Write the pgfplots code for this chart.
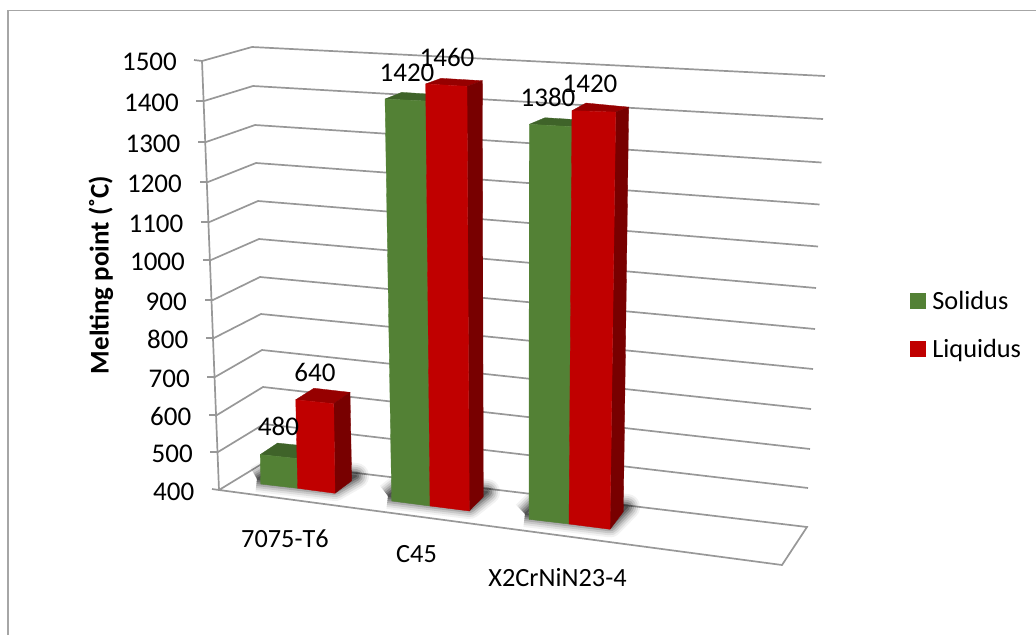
\documentclass[border=0pt]{standalone}
\usepackage{fontspec}
\setmainfont{Carlito}
\usepackage{pgfplots}
\pgfplotsset{compat=1.18}

\definecolor{solidusfront}{HTML}{538135}
\definecolor{solidustop}{HTML}{3F6329}
\definecolor{liquidusfront}{HTML}{C00000}
\definecolor{liquidustop}{HTML}{960000}
\definecolor{liquidusside}{HTML}{780000}
\definecolor{gridgray}{HTML}{989898}
\definecolor{framegray}{HTML}{A6A6A6}

\newcommand{\lbl}{\fontsize{26.3}{30}\selectfont}
\newcommand{\num}{\fontsize{27}{30}\selectfont}

% Value scale of the chart: floor at 400, top of the walls at 1500.
\newcommand{\BarValue}[1]{\pgfmathsetmacro{\T}{(#1-400)/1100}}
% One vertical edge of a bar: foot x, foot y, then the offset from foot to level 1500.
\newcommand{\SetCorner}[5]{%
  \pgfmathsetmacro{\tmpx}{#2+\T*(#4)}%
  \pgfmathsetmacro{\tmpy}{#3+\T*(#5)}%
  \expandafter\edef\csname #1tx\endcsname{\tmpx}%
  \expandafter\edef\csname #1ty\endcsname{\tmpy}%
  \expandafter\edef\csname #1bx\endcsname{#2}%
  \expandafter\edef\csname #1by\endcsname{#3}%
}
\newcommand{\Face}[2]{%
  \edef\tmpface{\noexpand\addplot[fill=#1,draw=#1,line width=0.3pt,forget plot] coordinates {#2};}%
  \tmpface
}
\newcommand{\DrawBar}[3]{%
  \Face{#2}{(\FLtx,\FLty) (\FRtx,\FRty) (\BRtx,\BRty) (\BLtx,\BLty) (\FLtx,\FLty)}%
  \Face{#3}{(\FRbx,\FRby) (\BRbx,\BRby) (\BRtx,\BRty) (\FRtx,\FRty) (\FRbx,\FRby)}%
  \Face{#1}{(\FLbx,\FLby) (\FRbx,\FRby) (\FRtx,\FRty) (\FLtx,\FLty) (\FLbx,\FLby)}%
}
% Soft floor shadow: nested translucent outlines around a bar group's footprint.
\newcommand{\Shadow}[1]{%
  \addplot[draw=black,opacity=0.05,line width=26pt,line join=round,forget plot] coordinates {#1};
  \addplot[draw=black,opacity=0.08,line width=22pt,line join=round,forget plot] coordinates {#1};
  \addplot[draw=black,opacity=0.10,line width=18pt,line join=round,forget plot] coordinates {#1};
  \addplot[draw=black,opacity=0.14,line width=14pt,line join=round,forget plot] coordinates {#1};
  \addplot[draw=black,opacity=0.18,line width=10pt,line join=round,forget plot] coordinates {#1};
  \addplot[draw=black,opacity=0.22,line width=6pt,line join=round,forget plot] coordinates {#1};
  \addplot[draw=black,opacity=0.25,line width=2pt,line join=round,forget plot] coordinates {#1};
}
\newcommand{\Grid}[1]{\addplot[gridgray,line width=1.7pt,forget plot] coordinates {#1};}

\begin{document}
\begin{tikzpicture}
\path[use as bounding box] (0,0) rectangle (1036pt,635pt);
\begin{axis}[
  at={(0,0)}, anchor=south west,
  scale only axis, width=1036pt, height=635pt,
  xmin=0, xmax=1036, ymin=0, ymax=635, y dir=reverse,
  hide axis, clip=false,
  legend image code/.code={\fill[#1] (0pt,-7.5pt) rectangle (15pt,7.5pt);\path (20pt,0pt);},
  legend cell align=left,
  legend style={at={(axis cs:910,289)},anchor=north west,draw=none,fill=none,
    font=\lbl,row sep=24pt,inner sep=0pt,outer sep=0pt,
    /tikz/every even column/.append style={column sep=0pt}},
]
% chart frame: left and top sides only
\draw[framegray,line width=1.8pt] (axis cs:8,635) -- (axis cs:8,10.5) -- (axis cs:1036,10.5);

% gridlines: tick stub, left wall, back wall
\Grid{(194,60) (202,61) (252,47) (825,76)}
\Grid{(196,101) (204,101) (253,86) (823,119)}
\Grid{(198,142) (206,142) (255,125) (821.5,162.5)}
\Grid{(200,182) (208,182) (256,163) (819.5,204.5)}
\Grid{(201,222) (209.5,222) (258,201) (818,246.5)}
\Grid{(203,260) (211,260) (259,239) (816,288)}
\Grid{(205,300) (213,300) (260,277) (815,329)}
\Grid{(206,338) (214,338) (261,314) (813,369)}
\Grid{(207,377) (215,377) (262,350) (811,409)}
\Grid{(209,415) (217,415) (263,387) (810,449)}
\Grid{(210,452) (218,452) (264,424) (808,488)}
\Grid{(212,489) (219,490) (265,462) (807,527) (782,565) (219,490)}
% left wall front edge
\Grid{(202,61) (219,490)}

% floor shadows
\Shadow{(257,479) (335,488) (356,476) (278,467) (257,479)}
\Shadow{(388,496) (469.3,506) (487,492) (405.7,482) (388,496)}
\Shadow{(525,514) (610,524.3) (627,507) (542.3,497) (525,514)}

% 7075-T6
\BarValue{480}
\SetCorner{FL}{260.7}{484}{-7}{-405}
\SetCorner{FR}{297.7}{488.3}{-7}{-410}
\SetCorner{BR}{314.7}{476.3}{-7}{-405}
\SetCorner{BL}{278}{472.5}{-7}{-405}
\DrawBar{solidusfront}{solidustop}{solidustop}
\BarValue{640}
\SetCorner{FL}{297.7}{488.3}{-9}{-406}
\SetCorner{FR}{335}{493.3}{-6}{-410.7}
\SetCorner{BR}{351.7}{480.7}{-7.8}{-405}
\SetCorner{BL}{314.4}{475.7}{-2}{-401}
\DrawBar{liquidusfront}{liquidustop}{liquidusside}

% C45
\BarValue{1420}
\SetCorner{FL}{391.7}{501}{-7.2}{-433.5}
\SetCorner{FR}{430}{506}{-4.6}{-436.8}
\SetCorner{BR}{444}{491.7}{-3}{-428}
\SetCorner{BL}{405.7}{486.7}{-4.3}{-425.3}
\DrawBar{solidusfront}{solidustop}{solidustop}
\BarValue{1460}
\SetCorner{FL}{430}{506}{-4.5}{-438}
\SetCorner{FR}{469.3}{511}{-2.4}{-440.7}
\SetCorner{BR}{483.3}{496.7}{-1}{-431.7}
\SetCorner{BL}{444.3}{491.7}{-3.4}{-429}
\DrawBar{liquidusfront}{liquidustop}{liquidusside}

% X2CrNiN23-4
\BarValue{1380}
\SetCorner{FL}{529}{519.3}{0.3}{-443.4}
\SetCorner{FR}{569}{524}{3.4}{-446}
\SetCorner{BR}{583}{506}{3.4}{-433}
\SetCorner{BL}{542.3}{501.7}{3}{-431}
\DrawBar{solidusfront}{solidustop}{solidustop}
\BarValue{1420}
\SetCorner{FL}{569}{524}{3.2}{-445.7}
\SetCorner{FR}{610}{529.3}{6.1}{-450}
\SetCorner{BR}{623.3}{511.7}{5.8}{-436.3}
\SetCorner{BL}{583}{506}{3.2}{-434.6}
\DrawBar{liquidusfront}{liquidustop}{liquidusside}

% legend
\addlegendimage{solidusfront}
\addlegendentry{Solidus}
\addlegendimage{liquidusfront}
\addlegendentry{Liquidus}

% value labels on the bars
\node[anchor=base,font=\num,inner sep=0pt] at (axis cs:278.5,435) {480};
\node[anchor=base,font=\num,inner sep=0pt] at (axis cs:315,381) {640};
\node[anchor=base,font=\num,inner sep=0pt] at (axis cs:407,81) {1420};
\node[anchor=base,font=\num,inner sep=0pt] at (axis cs:447,66) {1460};
\node[anchor=base,font=\num,inner sep=0pt] at (axis cs:548,106) {1380};
\node[anchor=base,font=\num,inner sep=0pt] at (axis cs:590,92) {1420};

% value axis numbers
\node[anchor=base east,font=\num,inner sep=0pt] at (axis cs:177,70) {1500};
\node[anchor=base east,font=\num,inner sep=0pt] at (axis cs:179,111) {1400};
\node[anchor=base east,font=\num,inner sep=0pt] at (axis cs:180.5,152) {1300};
\node[anchor=base east,font=\num,inner sep=0pt] at (axis cs:182,192) {1200};
\node[anchor=base east,font=\num,inner sep=0pt] at (axis cs:183.5,232) {1100};
\node[anchor=base east,font=\num,inner sep=0pt] at (axis cs:185,270) {1000};
\node[anchor=base east,font=\num,inner sep=0pt] at (axis cs:187,310) {900};
\node[anchor=base east,font=\num,inner sep=0pt] at (axis cs:188.5,348) {800};
\node[anchor=base east,font=\num,inner sep=0pt] at (axis cs:190,387) {700};
\node[anchor=base east,font=\num,inner sep=0pt] at (axis cs:191.5,425) {600};
\node[anchor=base east,font=\num,inner sep=0pt] at (axis cs:193,462) {500};
\node[anchor=base east,font=\num,inner sep=0pt] at (axis cs:194.5,500) {400};

% category names
\node[anchor=base,font=\lbl,inner sep=0pt] at (axis cs:285,547) {7075-T6};
\node[anchor=base,font=\lbl,inner sep=0pt] at (axis cs:416.5,562) {C45};
\node[anchor=base,font=\lbl,inner sep=0pt] at (axis cs:557.5,586) {X2CrNiN23-4};

% axis title
\node[rotate=90,font=\fontsize{27}{30}\selectfont\bfseries,inner sep=0pt] at (axis cs:101,275) {Melting point (˚C)};
\end{axis}
\end{tikzpicture}
\end{document}
